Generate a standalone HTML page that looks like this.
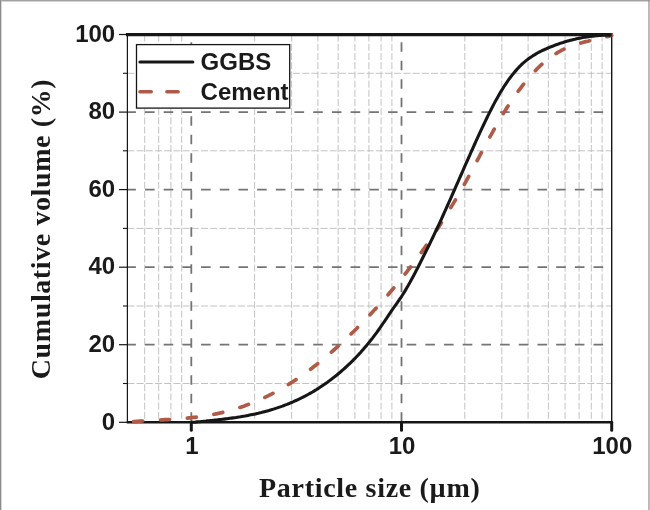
<!DOCTYPE html>
<html><head><meta charset="utf-8"><style>
html,body{margin:0;padding:0;background:#fff;}
body{width:650px;height:510px;overflow:hidden;position:relative;}
svg{position:absolute;left:0;top:0;display:block;}
</style></head><body>
<svg width="650" height="510" viewBox="0 0 650 510">
<rect x="0" y="0" width="650" height="510" fill="#fff"/>
<g stroke="#bcbcbc" stroke-width="0.9" stroke-dasharray="7 2.2" fill="none">
<line x1="144.7" y1="34.6" x2="144.7" y2="422.3"/>
<line x1="158.7" y1="34.6" x2="158.7" y2="422.3"/>
<line x1="170.9" y1="34.6" x2="170.9" y2="422.3"/>
<line x1="181.7" y1="34.6" x2="181.7" y2="422.3"/>
<line x1="254.6" y1="34.6" x2="254.6" y2="422.3"/>
<line x1="291.6" y1="34.6" x2="291.6" y2="422.3"/>
<line x1="317.9" y1="34.6" x2="317.9" y2="422.3"/>
<line x1="338.2" y1="34.6" x2="338.2" y2="422.3"/>
<line x1="354.9" y1="34.6" x2="354.9" y2="422.3"/>
<line x1="368.9" y1="34.6" x2="368.9" y2="422.3"/>
<line x1="381.1" y1="34.6" x2="381.1" y2="422.3"/>
<line x1="391.9" y1="34.6" x2="391.9" y2="422.3"/>
<line x1="464.8" y1="34.6" x2="464.8" y2="422.3"/>
<line x1="501.8" y1="34.6" x2="501.8" y2="422.3"/>
<line x1="528.1" y1="34.6" x2="528.1" y2="422.3"/>
<line x1="548.4" y1="34.6" x2="548.4" y2="422.3"/>
<line x1="565.1" y1="34.6" x2="565.1" y2="422.3"/>
<line x1="579.1" y1="34.6" x2="579.1" y2="422.3"/>
<line x1="591.3" y1="34.6" x2="591.3" y2="422.3"/>
<line x1="602.1" y1="34.6" x2="602.1" y2="422.3"/>
<line x1="127.4" y1="383.5" x2="611.7" y2="383.5"/>
<line x1="127.4" y1="306.0" x2="611.7" y2="306.0"/>
<line x1="127.4" y1="228.4" x2="611.7" y2="228.4"/>
<line x1="127.4" y1="150.8" x2="611.7" y2="150.8"/>
<line x1="127.4" y1="73.3" x2="611.7" y2="73.3"/>
</g>
<g stroke="#747474" stroke-width="1.8" stroke-dasharray="9.6 8.90" stroke-dashoffset="-7.60" fill="none">
<line x1="191.3" y1="34.6" x2="191.3" y2="422.3"/>
<line x1="401.5" y1="34.6" x2="401.5" y2="422.3"/>
</g>
<g stroke="#747474" stroke-width="1.8" stroke-dasharray="9.6 9.09" stroke-dashoffset="1.10" fill="none">
<line x1="127.4" y1="344.7" x2="611.7" y2="344.7"/>
<line x1="127.4" y1="267.2" x2="611.7" y2="267.2"/>
<line x1="127.4" y1="189.6" x2="611.7" y2="189.6"/>
<line x1="127.4" y1="112.1" x2="611.7" y2="112.1"/>
</g>
<g stroke="#161616" fill="none">
<line x1="127.4" y1="34.6" x2="127.4" y2="422.3" stroke-width="1.2"/>
<line x1="611.7" y1="34.6" x2="611.7" y2="422.3" stroke-width="1.4"/>
<line x1="126.80000000000001" y1="422.3" x2="612.4000000000001" y2="422.3" stroke-width="2.6"/>
<line x1="125.9" y1="34.6" x2="612.7" y2="34.6" stroke-width="3.3"/>
<line x1="119" y1="422.3" x2="127.4" y2="422.3" stroke-width="1.2"/>
<line x1="119" y1="344.7" x2="127.4" y2="344.7" stroke-width="1.2"/>
<line x1="119" y1="267.2" x2="127.4" y2="267.2" stroke-width="1.2"/>
<line x1="119" y1="189.6" x2="127.4" y2="189.6" stroke-width="1.2"/>
<line x1="119" y1="112.1" x2="127.4" y2="112.1" stroke-width="1.2"/>
<line x1="119" y1="34.5" x2="127.4" y2="34.5" stroke-width="1.2"/>
<line x1="123" y1="383.5" x2="127.4" y2="383.5" stroke-width="1.1"/>
<line x1="123" y1="306.0" x2="127.4" y2="306.0" stroke-width="1.1"/>
<line x1="123" y1="228.4" x2="127.4" y2="228.4" stroke-width="1.1"/>
<line x1="123" y1="150.8" x2="127.4" y2="150.8" stroke-width="1.1"/>
<line x1="123" y1="73.3" x2="127.4" y2="73.3" stroke-width="1.1"/>
<line x1="191.3" y1="422.3" x2="191.3" y2="430.3" stroke-width="3" stroke-linecap="round"/>
<line x1="401.5" y1="422.3" x2="401.5" y2="430.3" stroke-width="3" stroke-linecap="round"/>
<line x1="611.7" y1="422.3" x2="611.7" y2="430.3" stroke-width="3" stroke-linecap="round"/>
</g>
<path d="M127.4 422.2 L128.9 422.0 130.4 421.9 131.9 421.8 133.4 421.7 134.9 421.6 136.4 421.4 137.9 421.3 139.4 421.2 140.9 421.1 142.4 421.0 143.9 420.9 145.4 420.8 146.9 420.8 148.4 420.7 149.9 420.6 151.4 420.5 152.9 420.4 154.4 420.3 155.9 420.2 157.4 420.2 158.9 420.1 160.4 420.0 161.9 419.9 163.4 419.8 164.9 419.7 166.4 419.7 167.9 419.6 169.4 419.5 170.9 419.4 172.4 419.3 173.9 419.2 175.4 419.1 176.9 419.0 178.4 418.9 179.9 418.7 181.4 418.6 182.9 418.5 184.4 418.4 185.9 418.2 187.4 418.1 188.9 417.9 190.4 417.8 191.9 417.6 193.4 417.4 194.9 417.3 196.4 417.1 197.9 416.9 199.4 416.7 200.9 416.5 202.4 416.3 203.9 416.1 205.4 415.8 206.9 415.6 208.4 415.3 209.9 415.1 211.4 414.8 212.9 414.5 214.4 414.2 215.9 413.9 217.4 413.6 218.9 413.2 220.4 412.9 221.9 412.6 223.4 412.2 224.9 411.8 226.4 411.4 227.9 411.0 229.4 410.6 230.9 410.2 232.4 409.8 233.9 409.3 235.4 408.9 236.9 408.4 238.4 407.9 239.9 407.4 241.4 406.9 242.9 406.4 244.4 405.9 245.9 405.3 247.4 404.8 248.9 404.2 250.4 403.6 251.9 403.0 253.4 402.4 254.9 401.8 256.4 401.2 257.9 400.6 259.4 399.9 260.9 399.2 262.4 398.5 263.9 397.8 265.4 397.1 266.9 396.4 268.4 395.7 269.9 394.9 271.4 394.2 272.9 393.4 274.4 392.6 275.9 391.8 277.4 391.0 278.9 390.1 280.4 389.3 281.9 388.4 283.4 387.5 284.9 386.6 286.4 385.7 287.9 384.8 289.4 383.9 290.9 382.9 292.4 382.0 293.9 381.0 295.4 380.0 296.9 379.0 298.4 378.0 299.9 376.9 301.4 375.9 302.9 374.8 304.4 373.7 305.9 372.7 307.4 371.6 308.9 370.4 310.4 369.3 311.9 368.2 313.4 367.0 314.9 365.8 316.4 364.7 317.9 363.5 319.4 362.2 320.9 361.0 322.4 359.8 323.9 358.5 325.4 357.3 326.9 356.0 328.4 354.7 329.9 353.4 331.4 352.1 332.9 350.8 334.4 349.5 335.9 348.1 337.4 346.8 338.9 345.4 340.4 344.1 341.9 342.7 343.4 341.3 344.9 339.9 346.4 338.4 347.9 337.0 349.4 335.6 350.9 334.1 352.4 332.7 353.9 331.2 355.4 329.7 356.9 328.2 358.4 326.7 359.9 325.2 361.4 323.7 362.9 322.1 364.4 320.6 365.9 319.0 367.4 317.5 368.9 315.9 370.4 314.3 371.9 312.7 373.4 311.1 374.9 309.4 376.4 307.8 377.9 306.2 379.4 304.5 380.9 302.8 382.4 301.1 383.9 299.5 385.4 297.7 386.9 296.0 388.4 294.3 389.9 292.5 391.4 290.8 392.9 289.0 394.4 287.2 395.9 285.4 397.4 283.6 398.9 281.7 400.4 279.9 401.9 278.0 403.4 276.1 404.9 274.2 406.4 272.3 407.9 270.4 409.4 268.5 410.9 266.5 412.4 264.5 413.9 262.5 415.4 260.5 416.9 258.5 418.4 256.4 419.9 254.4 421.4 252.3 422.9 250.2 424.4 248.1 425.9 246.0 427.4 243.8 428.9 241.6 430.4 239.4 431.9 237.2 433.4 235.0 434.9 232.8 436.4 230.5 437.9 228.2 439.4 225.9 440.9 223.6 442.4 221.2 443.9 218.8 445.4 216.4 446.9 214.0 448.4 211.6 449.9 209.1 451.4 206.6 452.9 204.1 454.4 201.6 455.9 199.1 457.4 196.5 458.9 193.9 460.4 191.3 461.9 188.6 463.4 186.0 464.9 183.3 466.4 180.6 467.9 177.8 469.4 175.1 470.9 172.3 472.4 169.5 473.9 166.7 475.4 163.9 476.9 161.1 478.4 158.3 479.9 155.5 481.4 152.7 482.9 149.9 484.4 147.1 485.9 144.3 487.4 141.5 488.9 138.8 490.4 136.0 491.9 133.3 493.4 130.6 494.9 127.9 496.4 125.3 497.9 122.7 499.4 120.1 500.9 117.6 502.4 115.1 503.9 112.6 505.4 110.2 506.9 107.8 508.4 105.5 509.9 103.2 511.4 100.9 512.9 98.7 514.4 96.5 515.9 94.4 517.4 92.3 518.9 90.3 520.4 88.3 521.9 86.3 523.4 84.4 524.9 82.5 526.4 80.7 527.9 78.9 529.4 77.1 530.9 75.4 532.4 73.8 533.9 72.1 535.4 70.6 536.9 69.0 538.4 67.5 539.9 66.1 541.4 64.7 542.9 63.4 544.4 62.1 545.9 60.8 547.4 59.6 548.9 58.4 550.4 57.3 551.9 56.2 553.4 55.2 554.9 54.2 556.4 53.3 557.9 52.4 559.4 51.5 560.9 50.7 562.4 49.9 563.9 49.2 565.4 48.5 566.9 47.8 568.4 47.2 569.9 46.6 571.4 46.0 572.9 45.5 574.4 45.0 575.9 44.5 577.4 44.0 578.9 43.5 580.4 43.1 581.9 42.7 583.4 42.3 584.9 41.9 586.4 41.5 587.9 41.2 589.4 40.8 590.9 40.4 592.4 40.1 593.9 39.8 595.4 39.4 596.9 39.1 598.4 38.7 599.9 38.4 601.4 38.0 602.9 37.6 604.4 37.3 605.9 36.9 607.4 36.5 608.9 36.1 610.4 35.7 611.7 35.3" fill="none" stroke="#b05a48" stroke-width="3.7" stroke-linecap="round" stroke-dasharray="9.0 17.90" stroke-dashoffset="-6.30"/>
<path d="M191.0 422.3 L192.5 422.3 194.0 422.2 195.5 422.1 197.0 421.9 198.5 421.8 200.0 421.7 201.5 421.5 203.0 421.4 204.5 421.2 206.0 421.1 207.5 420.9 209.0 420.8 210.5 420.6 212.0 420.5 213.5 420.3 215.0 420.1 216.5 420.0 218.0 419.8 219.5 419.6 221.0 419.5 222.5 419.3 224.0 419.1 225.5 418.9 227.0 418.7 228.5 418.5 230.0 418.3 231.5 418.1 233.0 417.9 234.5 417.7 236.0 417.5 237.5 417.2 239.0 417.0 240.5 416.8 242.0 416.5 243.5 416.2 245.0 416.0 246.5 415.7 248.0 415.4 249.5 415.1 251.0 414.8 252.5 414.5 254.0 414.2 255.5 413.9 257.0 413.5 258.5 413.2 260.0 412.8 261.5 412.5 263.0 412.1 264.5 411.7 266.0 411.3 267.5 410.9 269.0 410.5 270.5 410.0 272.0 409.6 273.5 409.1 275.0 408.6 276.5 408.1 278.0 407.6 279.5 407.1 281.0 406.6 282.5 406.1 284.0 405.5 285.5 404.9 287.0 404.4 288.5 403.8 290.0 403.1 291.5 402.5 293.0 401.9 294.5 401.2 296.0 400.5 297.5 399.8 299.0 399.1 300.5 398.4 302.0 397.7 303.5 396.9 305.0 396.1 306.5 395.3 308.0 394.5 309.5 393.7 311.0 392.8 312.5 392.0 314.0 391.1 315.5 390.2 317.0 389.2 318.5 388.3 320.0 387.3 321.5 386.3 323.0 385.3 324.5 384.3 326.0 383.2 327.5 382.2 329.0 381.1 330.5 379.9 332.0 378.8 333.5 377.6 335.0 376.5 336.5 375.3 338.0 374.0 339.5 372.8 341.0 371.5 342.5 370.2 344.0 368.9 345.5 367.5 347.0 366.1 348.5 364.7 350.0 363.3 351.5 361.9 353.0 360.4 354.5 358.8 356.0 357.3 357.5 355.7 359.0 354.1 360.5 352.5 362.0 350.8 363.5 349.1 365.0 347.3 366.5 345.6 368.0 343.8 369.5 341.9 371.0 340.0 372.5 338.1 374.0 336.1 375.5 334.1 377.0 332.1 378.5 330.0 380.0 327.9 381.5 325.7 383.0 323.5 384.5 321.3 386.0 319.1 387.5 316.9 389.0 314.6 390.5 312.4 392.0 310.2 393.5 308.0 395.0 305.9 396.5 303.8 398.0 301.6 399.5 299.5 401.0 297.3 402.5 295.0 404.0 292.6 405.5 290.1 407.0 287.5 408.5 284.9 410.0 282.3 411.5 279.5 413.0 276.7 414.5 273.9 416.0 271.1 417.5 268.2 419.0 265.2 420.5 262.3 422.0 259.3 423.5 256.3 425.0 253.3 426.5 250.3 428.0 247.3 429.5 244.2 431.0 241.1 432.5 238.0 434.0 234.9 435.5 231.7 437.0 228.5 438.5 225.3 440.0 222.1 441.5 218.8 443.0 215.5 444.5 212.2 446.0 208.9 447.5 205.5 449.0 202.2 450.5 198.8 452.0 195.4 453.5 192.0 455.0 188.6 456.5 185.2 458.0 181.8 459.5 178.4 461.0 175.0 462.5 171.6 464.0 168.2 465.5 164.7 467.0 161.3 468.5 158.0 470.0 154.6 471.5 151.2 473.0 147.8 474.5 144.5 476.0 141.2 477.5 137.9 479.0 134.6 480.5 131.4 482.0 128.1 483.5 125.0 485.0 121.8 486.5 118.7 488.0 115.6 489.5 112.6 491.0 109.7 492.5 106.8 494.0 103.9 495.5 101.1 497.0 98.4 498.5 95.7 500.0 93.1 501.5 90.6 503.0 88.2 504.5 85.8 506.0 83.6 507.5 81.4 509.0 79.2 510.5 77.2 512.0 75.3 513.5 73.4 515.0 71.6 516.5 69.9 518.0 68.2 519.5 66.6 521.0 65.2 522.5 63.7 524.0 62.4 525.5 61.1 527.0 59.9 528.5 58.8 530.0 57.7 531.5 56.7 533.0 55.7 534.5 54.8 536.0 53.9 537.5 53.0 539.0 52.2 540.5 51.5 542.0 50.7 543.5 50.0 545.0 49.3 546.5 48.7 548.0 48.0 549.5 47.4 551.0 46.8 552.5 46.2 554.0 45.6 555.5 45.0 557.0 44.5 558.5 44.0 560.0 43.4 561.5 42.9 563.0 42.5 564.5 42.0 566.0 41.5 567.5 41.1 569.0 40.7 570.5 40.3 572.0 39.9 573.5 39.5 575.0 39.2 576.5 38.8 578.0 38.5 579.5 38.2 581.0 37.9 582.5 37.6 584.0 37.3 585.5 37.1 587.0 36.9 588.5 36.6 590.0 36.4 591.5 36.2 593.0 36.1 594.5 35.9 596.0 35.8 597.5 35.6 599.0 35.5 600.5 35.4 602.0 35.3 603.5 35.3 605.0 35.2 606.5 35.2 608.0 35.1 609.5 35.1 611.0 35.1 611.7 35.1" fill="none" stroke="#161616" stroke-width="3.1" stroke-linejoin="round"/>
<rect x="136.5" y="44.6" width="153.2" height="63.5" fill="#fff" stroke="#161616" stroke-width="1.3"/>
<line x1="140" y1="62" x2="192.8" y2="62" stroke="#161616" stroke-width="3.2" stroke-linecap="round"/>
<line x1="140" y1="91.8" x2="193" y2="91.8" stroke="#b05a48" stroke-width="3.6" stroke-linecap="round" stroke-dasharray="11.2 15.7"/>
<g font-family="Liberation Sans, Arial, sans-serif" font-weight="bold" font-size="24" fill="#1a1a1a">
<text x="200.6" y="69.6">GGBS</text>
<text x="200.6" y="100.2">Cement</text>
</g>
<g font-family="Liberation Sans, Arial, sans-serif" font-weight="bold" font-size="24" fill="#1a1a1a" text-anchor="end">
<text x="115.2" y="429.5">0</text>
<text x="115.2" y="351.9">20</text>
<text x="115.2" y="274.4">40</text>
<text x="115.2" y="196.8">60</text>
<text x="115.2" y="119.3">80</text>
<text x="115.2" y="41.7">100</text>
</g>
<g font-family="Liberation Sans, Arial, sans-serif" font-weight="bold" font-size="24" fill="#1a1a1a" text-anchor="middle">
<text x="191.9" y="453.6">1</text>
<text x="402.1" y="453.6">10</text>
<text x="612.3" y="453.6">100</text>
</g>
<text x="259.0" y="497.4" font-family="Liberation Serif, Times New Roman, serif" font-weight="bold" font-size="28" letter-spacing="0.7" fill="#1a1a1a">Particle size (µm)</text>
<text transform="translate(49.6 379.2) rotate(-90)" font-family="Liberation Serif, Times New Roman, serif" font-weight="bold" font-size="28" letter-spacing="0.6" fill="#1a1a1a">Cumulative volume (%)</text>
<rect x="0" y="0" width="650" height="1.2" fill="#a2a2a2"/>
<rect x="0" y="1.2" width="650" height="0.7" fill="#cacaca"/>
<rect x="0" y="0" width="1.1" height="510" fill="#8c8c8c"/>
<rect x="1.1" y="0" width="0.6" height="510" fill="#c4c4c4"/>
<rect x="648.4" y="0" width="1.1" height="510" fill="#8c8c8c"/>
<rect x="649.5" y="0" width="0.5" height="510" fill="#b8b8b8"/>
</svg>
</body></html>
